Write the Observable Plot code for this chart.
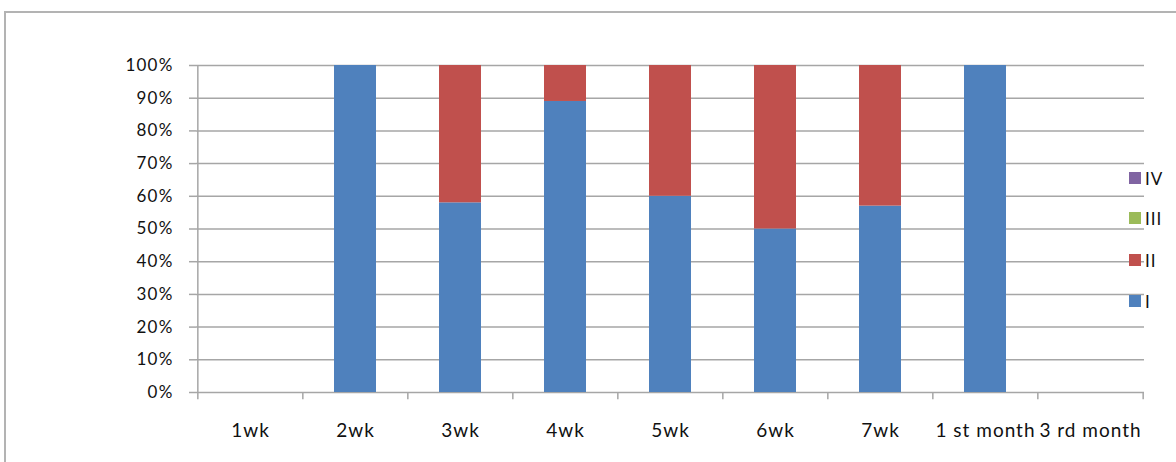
<!DOCTYPE html>
<html>
<head>
<meta charset="utf-8">
<script src="https://cdn.jsdelivr.net/npm/d3@7"></script>
<script src="https://cdn.jsdelivr.net/npm/@observablehq/plot@0.6"></script>
<style>
  html, body { margin: 0; padding: 0; background: #fff; }
  #wrap { position: relative; width: 1176px; height: 462px; overflow: hidden; font-family: Lato, "Open Sans", sans-serif; }
  #border { position: absolute; left: 4px; top: 11px; width: 1200px; height: 500px; border: 2px solid #b3b3b3; box-sizing: border-box; }
  #chart { position: absolute; left: 0; top: 0; }
  #chart svg g[aria-label="x-axis tick label"] text { letter-spacing: 1px; }
  #chart svg g[aria-label="y-axis tick label"] text { letter-spacing: 1.2px; }
  #legend { position: absolute; left: 1129px; top: 0; }
  .item { position: absolute; left: 0; display: flex; align-items: center; white-space: nowrap; font-size: 17px; color: #111; letter-spacing: 1px; }
  .sw { width: 12px; height: 12px; margin-right: 4px; }
</style>
</head>
<body>
<div id="wrap">
  <div id="border"></div>
  <div id="chart"></div>
  <div id="legend"></div>
</div>
<script>
const categories = ["1wk", "2wk", "3wk", "4wk", "5wk", "6wk", "7wk", "1 st month", "3 rd month"];
const seriesNames = ["I", "II", "III", "IV"];
const seriesColors = ["#4F81BD", "#C0504D", "#9BBB59", "#8064A2"];
const gradeI   = [0, 100, 58, 89, 60, 50, 57, 100, 0];
const gradeII  = [0, 0, 42, 11, 40, 50, 43, 0, 0];
const gradeIII = [0, 0, 0, 0, 0, 0, 0, 0, 0];
const gradeIV  = [0, 0, 0, 0, 0, 0, 0, 0, 0];
const yTicks = [0, 0.1, 0.2, 0.3, 0.4, 0.5, 0.6, 0.7, 0.8, 0.9, 1];

const seriesValues = [gradeI, gradeII, gradeIII, gradeIV];
const rows = [];
seriesNames.forEach((s, si) => {
  categories.forEach((c, ci) => rows.push({cat: c, series: s, value: seriesValues[si][ci] / 100}));
});

const W = 1176, H = 462;
const mL = 196, mR = 32, mT = 65, mB = 70;
const step = (W - mL - mR) / categories.length;
const gridColor = "#a6a6a6";

const chart = Plot.plot({
  width: W,
  height: H,
  marginLeft: mL,
  marginRight: mR,
  marginTop: mT,
  marginBottom: mB,
  style: {fontFamily: "Lato, 'Open Sans', sans-serif", color: "#111", background: "transparent"},
  x: {domain: categories, paddingInner: 0.6, paddingOuter: 0.3, axis: null, label: null},
  y: {domain: [0, 1], axis: null, label: null},
  color: {domain: seriesNames, range: seriesColors},
  marks: [
    Plot.ruleY(yTicks, {y: d => d, stroke: gridColor, strokeWidth: 1.5}),
    Plot.barY(rows, Plot.stackY({x: "cat", y: "value", fill: "series", order: seriesNames})),
    Plot.ruleX([categories[0]], {x: d => d, dx: -step / 2, y1: 0, y2: 1, stroke: gridColor, strokeWidth: 1.5}),
    Plot.ruleX(categories, {x: d => d, dx: -step / 2, y1: 0, y2: -0.022, stroke: gridColor, strokeWidth: 1.5}),
    Plot.ruleX([categories[categories.length - 1]], {x: d => d, dx: step / 2, y1: 0, y2: -0.022, stroke: gridColor, strokeWidth: 1.5}),
    Plot.axisY(yTicks, {label: null, tickFormat: d3.format(".0%"), tickSize: 7, tickPadding: 16, fontSize: 17, fill: "#111", stroke: gridColor, strokeWidth: 1.5}),
    Plot.axisX(categories, {label: null, tickSize: 0, tickPadding: 31, fontSize: 19, fill: "#111"})
  ]
});
document.getElementById("chart").appendChild(chart);

// legend (top to bottom: IV, III, II, I)
const legendCenters = [301, 260, 218, 178];
const legend = document.getElementById("legend");
seriesNames.forEach((s, i) => {
  const it = document.createElement("div");
  it.className = "item";
  it.style.top = (legendCenters[i] - 10) + "px";
  it.style.height = "20px";
  const sw = document.createElement("span");
  sw.className = "sw";
  sw.style.background = seriesColors[i];
  const t = document.createElement("span");
  t.textContent = s;
  it.appendChild(sw);
  it.appendChild(t);
  legend.appendChild(it);
});
</script>
</body>
</html>
